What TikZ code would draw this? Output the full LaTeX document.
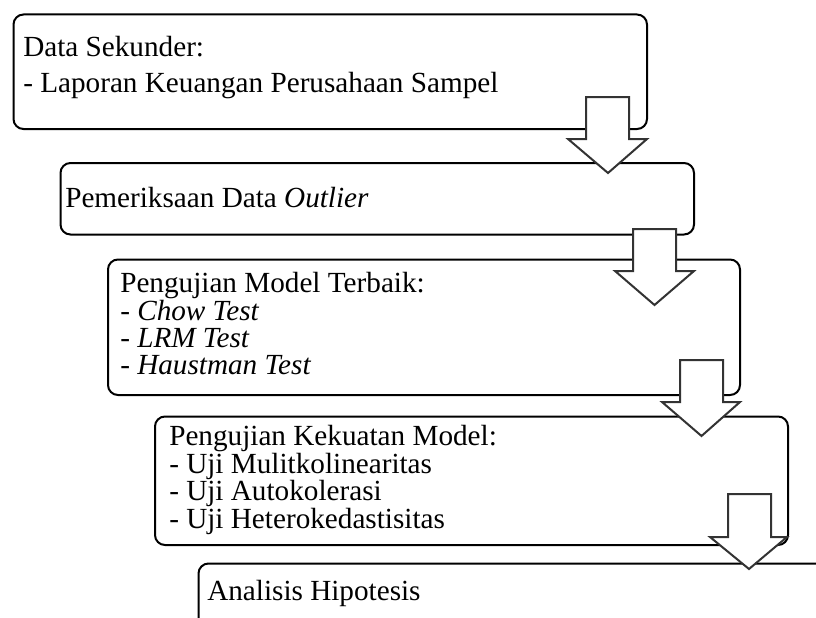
\documentclass[tikz,border=0pt]{standalone}
\usepackage{fontspec}
\setmainfont{Liberation Serif}
\begin{document}
\begin{tikzpicture}[x=0.75pt,y=-0.75pt,
  box/.style={draw=black,line width=1.5pt,rounded corners=7.5pt,anchor=north west,inner sep=0pt,fill=none},
  txt/.style={anchor=base west,inner sep=0pt,font=\fontsize{21.9}{26}\selectfont},
  blockarrow/.style={draw=black!80,fill=white,line width=1.5pt,line join=miter}]
\useasboundingbox (0,0) rectangle (816,617);
% boxes
\node[box,minimum width=633.5*0.75pt,minimum height=114.5*0.75pt] (b1) at (12.5,13.5) {};
\node[box,minimum width=633.5*0.75pt,minimum height=71.5*0.75pt] (b2) at (59.5,162) {};
\node[box,minimum width=632*0.75pt,minimum height=135.5*0.75pt] (b3) at (107,258.5) {};
\node[box,minimum width=633*0.75pt,minimum height=128.5*0.75pt] (b4) at (154,415.5) {};
\node[box,minimum width=700*0.75pt,minimum height=120*0.75pt] (b5) at (197.5,562.5) {};
% texts
\node[txt] (t1a) at (23,57) {Data Sekunder:};
\node[txt] (t1b) at (23,92) {- Laporan Keuangan Perusahaan Sampel};
\node[txt] (t2) at (65,207) {Pemeriksaan Data \textit{Outlier}};
\node[txt] (t3a) at (120,292) {Pengujian Model Terbaik:};
\node[txt] (t3b) at (120,320) {- \textit{Chow Test}};
\node[txt] (t3c) at (120,347) {- \textit{LRM Test}};
\node[txt] (t3d) at (120,374) {- \textit{Haustman Test}};
\node[txt] (t4a) at (169,445) {Pengujian Kekuatan Model:};
\node[txt] (t4b) at (169,473) {- Uji Mulitkolinearitas};
\node[txt] (t4c) at (169,500) {- Uji Autokolerasi};
\node[txt] (t4d) at (169,528) {- Uji Heterokedastisitas};
\node[txt] (t5) at (207,600) {Analisis Hipotesis};
% block arrows
\draw[blockarrow] (586,97) -- (629,97) -- (629,139) -- (647,139) -- (608,173) -- (568,139) -- (586,139) -- cycle;
\draw[blockarrow] (633,229) -- (676,229) -- (676,271) -- (694,271) -- (654.5,305) -- (615,271) -- (633,271) -- cycle;
\draw[blockarrow] (680,360) -- (723,360) -- (723,402) -- (740,402) -- (701.5,436) -- (662,402) -- (680,402) -- cycle;
\draw[blockarrow] (728,494) -- (771,494) -- (771,537) -- (787,537) -- (749,569) -- (710,537) -- (728,537) -- cycle;
\end{tikzpicture}
\end{document}
